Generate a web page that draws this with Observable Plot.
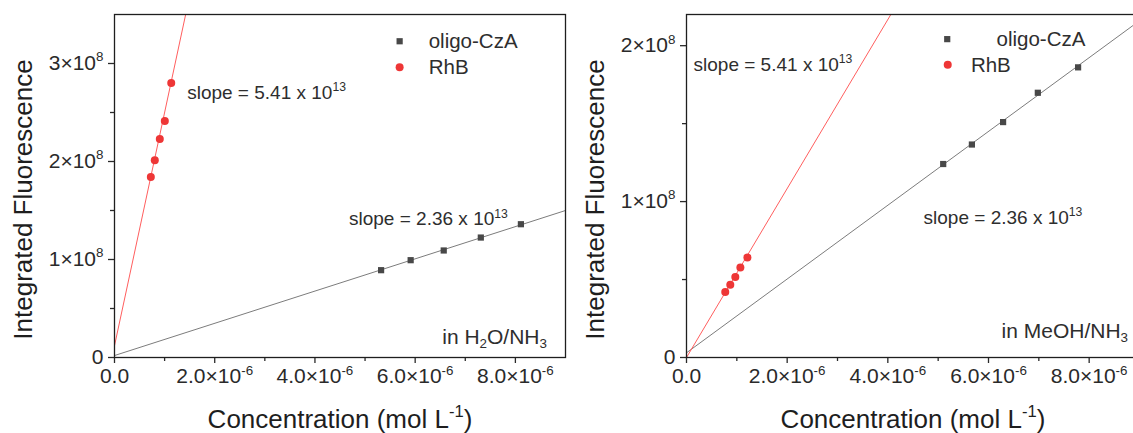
<!DOCTYPE html>
<html>
<head>
<meta charset="utf-8">
<script src="https://cdn.jsdelivr.net/npm/d3@7"></script>
<script src="https://cdn.jsdelivr.net/npm/@observablehq/plot@0.6"></script>
<style>
html, body { margin: 0; padding: 0; overflow: hidden; background: #fff; width: 1133px; height: 433px; }
.panel { position: absolute; top: 0; }
#left { left: 0; }
#right { left: 572px; }
svg { max-width: none !important; }
</style>
</head>
<body>
<div id="left" class="panel"></div>
<div id="right" class="panel"></div>
<script>
// ---------- data ----------
const xTicks = [0, 2e-6, 4e-6, 6e-6, 8e-6];
const xMinorTicks = [1e-6, 3e-6, 5e-6, 7e-6];
const xDomain = [0, 9e-6];

const leftYTicks = [0, 1e8, 2e8, 3e8];
const leftYMinor = [0.5e8, 1.5e8, 2.5e8];
const leftYDomain = [0, 3.5e8];

const rightYTicks = [0, 1e8, 2e8];
const rightYMinor = [0.5e8, 1.5e8];
const rightYDomain = [0, 2.2e8];

const seriesNames = ["oligo-CzA", "RhB"];

// Left panel (H2O/NH3)
const leftOligoConc = [5.32e-6, 5.91e-6, 6.57e-6, 7.31e-6, 8.11e-6];
const leftOligoFluo = [0.891e8, 0.993e8, 1.092e8, 1.224e8, 1.360e8];
const leftRhBConc = [0.725e-6, 0.804e-6, 0.904e-6, 1.004e-6, 1.132e-6];
const leftRhBFluo = [1.843e8, 2.013e8, 2.230e8, 2.414e8, 2.800e8];
const leftOligoFitConc = [0, 9e-6];
const leftOligoFitFluo = [0.02e8, 1.50e8];
const leftRhBFitConc = [0, 1.42e-6];
const leftRhBFitFluo = [0.12e8, 3.5e8];
const leftSlopeNotes = ["slope = 5.41 x 10^{13}", "slope = 2.36 x 10^{13}"];
const leftSolvent = "in H_{2}O/NH_{3}";

// Right panel (MeOH/NH3)
const rightOligoConc = [5.10e-6, 5.67e-6, 6.29e-6, 6.98e-6, 7.78e-6];
const rightOligoFluo = [1.241e8, 1.366e8, 1.510e8, 1.698e8, 1.861e8];
const rightRhBConc = [0.77e-6, 0.87e-6, 0.97e-6, 1.07e-6, 1.21e-6];
const rightRhBFluo = [0.420e8, 0.466e8, 0.516e8, 0.578e8, 0.642e8];
const rightOligoFitConc = [0, 9e-6];
const rightOligoFitFluo = [0.03e8, 2.16e8];
const rightRhBFitConc = [0, 4.06e-6];
const rightRhBFitFluo = [0, 2.2e8];
const rightSlopeNotes = ["slope = 5.41 x 10^{13}", "slope = 2.36 x 10^{13}"];
const rightSolvent = "in MeOH/NH_{3}";

const xTitle = "Concentration (mol L^{-1})";
const yTitle = "Integrated Fluorescence";

// ---------- helpers ----------
const FONT = "'Liberation Sans', Arial, Helvetica, sans-serif";
const rows = (xs, ys) => xs.map((x, i) => ({x, y: ys[i]}));
const fmtX = d => d === 0 ? "0.0" : `${(d * 1e6).toFixed(1)}×10^{-6}`;
const fmtY = d => d === 0 ? "0" : `${Math.round(d / 1e8)}×10^{8}`;

function makePanel(p) {
  return Plot.plot({
    width: 580, height: 433,
    marginLeft: 114, marginRight: p.marginRight, marginTop: 14, marginBottom: 76,
    style: {fontFamily: FONT, fontSize: "21px", color: "#2a2a2a", background: "white", overflow: "visible", maxWidth: "none"},
    x: {domain: xDomain},
    y: {domain: p.yDomain},
    marks: [
      Plot.axisX({ticks: xTicks, tickFormat: fmtX, tickSize: 6, tickPadding: 5, label: null, fontSize: 21, strokeWidth: 1.3}),
      Plot.axisX({ticks: xMinorTicks, tickFormat: () => "", tickSize: 4, label: null, strokeWidth: 1.3}),
      Plot.axisY({ticks: p.yTicks, tickFormat: fmtY, tickSize: 6, tickPadding: 5, label: null, fontSize: 21, strokeWidth: 1.3}),
      Plot.axisY({ticks: p.yMinor, tickFormat: () => "", tickSize: 4, label: null, strokeWidth: 1.3}),
      Plot.line(rows(p.oligoFitConc, p.oligoFitFluo), {x: "x", y: "y", stroke: "#7c7c7c", strokeWidth: 1, clip: true}),
      Plot.line(rows(p.rhbFitConc, p.rhbFitFluo), {x: "x", y: "y", stroke: "#ff5e5e", strokeWidth: 1, clip: true}),
      Plot.dot(rows(p.oligoConc, p.oligoFluo), {x: "x", y: "y", symbol: "square", r: 3.5, fill: "#484848"}),
      Plot.dot(rows(p.rhbConc, p.rhbFluo), {x: "x", y: "y", r: 4, fill: "#ee3636"}),
      Plot.frame({stroke: "#1e1e1e", strokeWidth: 1.3}),
      // legend
      Plot.dot([p.legend.square], {x: "x", y: "y", symbol: "square", r: 3.5, fill: "#484848"}),
      Plot.dot([p.legend.circle], {x: "x", y: "y", r: 4, fill: "#ee3636"}),
      Plot.text([{...p.legend.t1, text: seriesNames[0]}, {...p.legend.t2, text: seriesNames[1]}],
        {x: "x", y: "y", text: "text", textAnchor: "start", lineAnchor: "bottom", fontSize: 20.5, fill: "#2e2e2e"}),
      // slope annotations
      Plot.text(p.slopeNotes.map((text, i) => ({text, x: p.notePos[i][0], y: p.notePos[i][1]})),
        {x: "x", y: "y", text: "text", textAnchor: "start", lineAnchor: "bottom", fontSize: 19, fill: "#2e2e2e"}),
      // solvent annotation
      Plot.text([{text: p.solvent, x: p.solventPos[0], y: p.solventPos[1]}],
        {x: "x", y: "y", text: "text", textAnchor: "start", lineAnchor: "bottom", fontSize: 21, fill: "#2e2e2e"}),
      // axis titles
      Plot.text([xTitle], {text: d => d, frameAnchor: "bottom", dy: 70, textAnchor: "middle", lineAnchor: "bottom", fontSize: 26, fill: "#1e1e1e"}),
      Plot.text([yTitle], {text: d => d, frameAnchor: "left", rotate: -90, dx: -91, dy: 13.5, textAnchor: "middle", lineAnchor: "middle", fontSize: 26, fill: "#1e1e1e"})
    ]
  });
}

// turn ^{..} and _{..} into super/subscripts
function rich(root) {
  root.querySelectorAll("text").forEach(t => {
    const s = t.textContent;
    if (!/[\^_]\{/.test(s)) return;
    const fs = parseFloat(getComputedStyle(t).fontSize) || 20;
    while (t.firstChild) t.removeChild(t.firstChild);
    const ns = "http://www.w3.org/2000/svg";
    const re = /([\^_])\{([^}]*)\}/g;
    let last = 0, m, shift = 0;
    const add = (str, target, small) => {
      if (!str) return;
      const ts = document.createElementNS(ns, "tspan");
      ts.textContent = str;
      const dy = target - shift;
      if (dy) ts.setAttribute("dy", dy);
      if (small) ts.setAttribute("font-size", (fs * 0.64).toFixed(1));
      shift = target;
      t.appendChild(ts);
    };
    while ((m = re.exec(s))) {
      add(s.slice(last, m.index), 0, false);
      add(m[2], m[1] === "^" ? -0.42 * fs : 0.22 * fs, true);
      last = re.lastIndex;
    }
    add(s.slice(last), 0, false);
  });
}

const left = makePanel({
  marginRight: 15,
  yDomain: leftYDomain, yTicks: leftYTicks, yMinor: leftYMinor,
  oligoConc: leftOligoConc, oligoFluo: leftOligoFluo,
  rhbConc: leftRhBConc, rhbFluo: leftRhBFluo,
  oligoFitConc: leftOligoFitConc, oligoFitFluo: leftOligoFitFluo,
  rhbFitConc: leftRhBFitConc, rhbFitFluo: leftRhBFitFluo,
  slopeNotes: leftSlopeNotes, solvent: leftSolvent,
  notePos: [[1.45e-6, 2.64e8], [4.68e-6, 1.347e8]],
  solventPos: [6.54e-6, 0.14e8],
  legend: {square: {x: 5.69e-6, y: 3.227e8}, circle: {x: 5.69e-6, y: 2.962e8},
           t1: {x: 6.27e-6, y: 3.163e8}, t2: {x: 6.27e-6, y: 2.895e8}}
});
document.getElementById("left").appendChild(left);

const right = makePanel({
  marginRight: 13,
  yDomain: rightYDomain, yTicks: rightYTicks, yMinor: rightYMinor,
  oligoConc: rightOligoConc, oligoFluo: rightOligoFluo,
  rhbConc: rightRhBConc, rhbFluo: rightRhBFluo,
  oligoFitConc: rightOligoFitConc, oligoFitFluo: rightOligoFitFluo,
  rhbFitConc: rightRhBFitConc, rhbFitFluo: rightRhBFitFluo,
  slopeNotes: rightSlopeNotes, solvent: rightSolvent,
  notePos: [[0.14e-6, 1.84e8], [4.71e-6, 0.856e8]],
  solventPos: [6.26e-6, 0.126e8],
  legend: {square: {x: 5.18e-6, y: 2.042e8}, circle: {x: 5.19e-6, y: 1.877e8},
           t1: {x: 6.16e-6, y: 1.995e8}, t2: {x: 5.65e-6, y: 1.828e8}}
});
document.getElementById("right").appendChild(right);

rich(left);
rich(right);
</script>
</body>
</html>
